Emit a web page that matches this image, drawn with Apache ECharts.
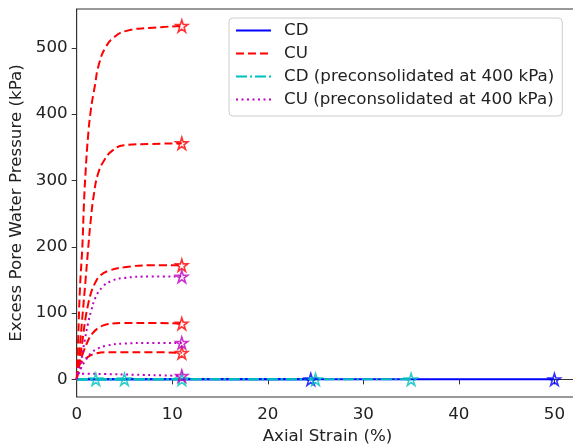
<!DOCTYPE html>
<html>
<head>
<meta charset="utf-8">
<script src="https://cdn.jsdelivr.net/npm/echarts@6/dist/echarts.min.js"></script>
<style>html,body{margin:0;padding:0;background:#fff}#c{width:573px;height:448px}</style>
</head>
<body>
<div id="c"></div>
<script>
// ---- data ----
const xTicks = [0, 10, 20, 30, 40, 50];
const yTicks = [0, 100, 200, 300, 400, 500];

// CD (blue, solid)
const cd1Strain = [0, 24.5];
const cd1Pwp    = [0, 0];
const cd2Strain = [0, 50];
const cd2Pwp    = [0, 0];

// CU (red, dashed)
const cuAStrain = [0, 0.15, 0.35, 0.59, 0.76, 0.94, 1.18, 1.47, 1.88, 2.34, 3.04, 3.9, 5.3, 7.6, 11];
const cuAPwp    = [0, 60, 140, 200, 265, 315, 365, 405, 441, 476, 501, 516, 526, 530, 533];
const cuBStrain = [0, 0.3, 0.6, 0.9, 1.18, 1.47, 1.81, 2.23, 2.86, 3.73, 4.95, 7.6, 11];
const cuBPwp    = [0, 45, 95, 145, 194, 240, 280, 310, 330, 345, 353, 355, 356];
const cuCStrain = [0, 0.2, 0.42, 0.7, 0.94, 1.18, 1.47, 1.88, 2.5, 3.38, 4.95, 7.6, 11];
const cuCPwp    = [0, 18, 39, 69, 94, 112, 129, 144, 157, 164, 169, 172, 172];
const cuDStrain = [0, 0.35, 0.7, 1.11, 1.63, 2.34, 3.2, 4.95, 7.6, 11];
const cuDPwp    = [0, 26, 41, 56, 69, 78, 83, 85, 85, 84];
const cuEStrain = [0, 0.1, 0.24, 0.7, 1.18, 1.81, 2.9, 4.95, 7.6, 11];
const cuEPwp    = [0, 10, 21, 28, 34, 38, 41, 41, 41, 40];

// CD preconsolidated (cyan, dash-dot)
const cdp1Strain = [0, 2];
const cdp2Strain = [0, 5];
const cdp3Strain = [0, 11];
const cdp4Strain = [0, 25];
const cdp5Strain = [0, 35];
const cdpPwp     = [0, 0];

// CU preconsolidated (magenta, dotted)
const cupAStrain = [0, 0.2, 0.48, 0.84, 1.18, 1.53, 1.99, 2.68, 3.56, 4.95, 7.6, 11];
const cupAPwp    = [0, 12, 29, 59, 84, 104, 124, 139, 148, 153, 155, 155];
const cupBStrain = [0, 0.2, 0.42, 0.94, 1.47, 2.16, 3.2, 4.95, 7.6, 11];
const cupBPwp    = [0, 8, 16, 29, 39, 46, 51, 54, 55, 55];
const cupCStrain = [0, 0.8, 3, 6, 9, 11];
const cupCPwp    = [8, 8.5, 8, 7, 6, 5];

// ---- build chart ----
const FONT = 'DejaVu Sans';
const STAR = 'path://M50,0 L61.23,34.55 L97.55,34.55 L68.17,55.9 L79.39,90.45 L50,69.1 L20.61,90.45 L31.83,55.9 L2.45,34.55 L38.77,34.55 Z';
const BLUE = '#0000ff', RED = '#ff0000', CYAN = '#00bfbf', MAG = '#bf00bf';

function pts(xs, ys) { return xs.map((x, i) => [x, ys[i]]); }

const groups = [
  { name: 'CD', color: BLUE, dash: 'solid', curves: [[cd1Strain, cd1Pwp], [cd2Strain, cd2Pwp]] },
  { name: 'CU', color: RED, dash: [8, 4], curves: [[cuAStrain, cuAPwp], [cuBStrain, cuBPwp], [cuCStrain, cuCPwp], [cuDStrain, cuDPwp], [cuEStrain, cuEPwp]] },
  { name: 'CD (preconsolidated at 400 kPa)', color: CYAN, dash: [11, 3, 2, 3], curves: [[cdp1Strain, cdpPwp], [cdp2Strain, cdpPwp], [cdp3Strain, cdpPwp], [cdp4Strain, cdpPwp], [cdp5Strain, cdpPwp]] },
  { name: 'CU (preconsolidated at 400 kPa)', color: MAG, dash: [2, 3.5], curves: [[cupAStrain, cupAPwp], [cupBStrain, cupBPwp], [cupCStrain, cupCPwp]] }
];

const series = [];
groups.forEach(g => {
  g.curves.forEach(c => {
    series.push({
      type: 'line', name: g.name, data: pts(c[0], c[1]),
      symbol: 'none', smooth: 0.5,
      lineStyle: { color: g.color, width: 2, type: g.dash },
      itemStyle: { color: g.color },
      silent: true, z: 2
    });
  });
});
groups.forEach(g => {
  series.push({
    type: 'scatter', name: g.name + ' end',
    data: g.curves.map(c => [c[0][c[0].length - 1], c[1][c[1].length - 1]]),
    symbol: STAR, symbolSize: 12,
    itemStyle: { color: 'rgba(255,255,255,0)', borderColor: g.color, borderWidth: 1.6 },
    silent: true, z: 3
  });
});

const axisCommon = {
  axisLine: { show: true, lineStyle: { color: '#333', width: 1 } },
  axisTick: { show: true, length: 5, lineStyle: { color: '#333', width: 1 } },
  splitLine: { show: false },
  axisLabel: { color: '#222', fontFamily: FONT, fontSize: 16.7, margin: 9 },
  nameTextStyle: { color: '#222', fontFamily: FONT, fontSize: 16.7 }
};

const chart = echarts.init(document.getElementById('c'), null, { renderer: 'canvas' });
chart.setOption({
  animation: false,
  backgroundColor: '#fff',
  grid: { left: 76.7, width: 501.6, top: 9, bottom: 51, outerBoundsMode: 'none', containLabel: false,
          show: true, borderColor: '#333', borderWidth: 1, backgroundColor: 'transparent' },
  xAxis: Object.assign({}, axisCommon, {
    type: 'value', min: 0, max: 52.5,
    name: 'Axial Strain (%)', nameLocation: 'middle', nameGap: 30,
    axisTick: Object.assign({}, axisCommon.axisTick, { customValues: xTicks }),
    axisLabel: Object.assign({}, axisCommon.axisLabel, { customValues: xTicks })
  }),
  yAxis: Object.assign({}, axisCommon, {
    type: 'value', min: -26.6, max: 558.6,
    name: 'Excess Pore Water Pressure (kPa)', nameLocation: 'middle', nameGap: 45,
    axisTick: Object.assign({}, axisCommon.axisTick, { customValues: yTicks }),
    axisLabel: Object.assign({}, axisCommon.axisLabel, { customValues: yTicks })
  }),
  legend: {
    data: groups.map(g => g.name),
    orient: 'vertical', left: 229, top: 18,
    padding: [4, 8, 8, 6], itemGap: 6, itemWidth: 35, itemHeight: 14,
    backgroundColor: '#fff', borderColor: '#cccccc', borderWidth: 1, borderRadius: 4,
    itemStyle: { opacity: 0 },
    textStyle: { color: '#222', fontFamily: FONT, fontSize: 16.7, padding: [0, 0, 0, 8] },
    selectedMode: false
  },
  series: series
});
</script>
</body>
</html>
